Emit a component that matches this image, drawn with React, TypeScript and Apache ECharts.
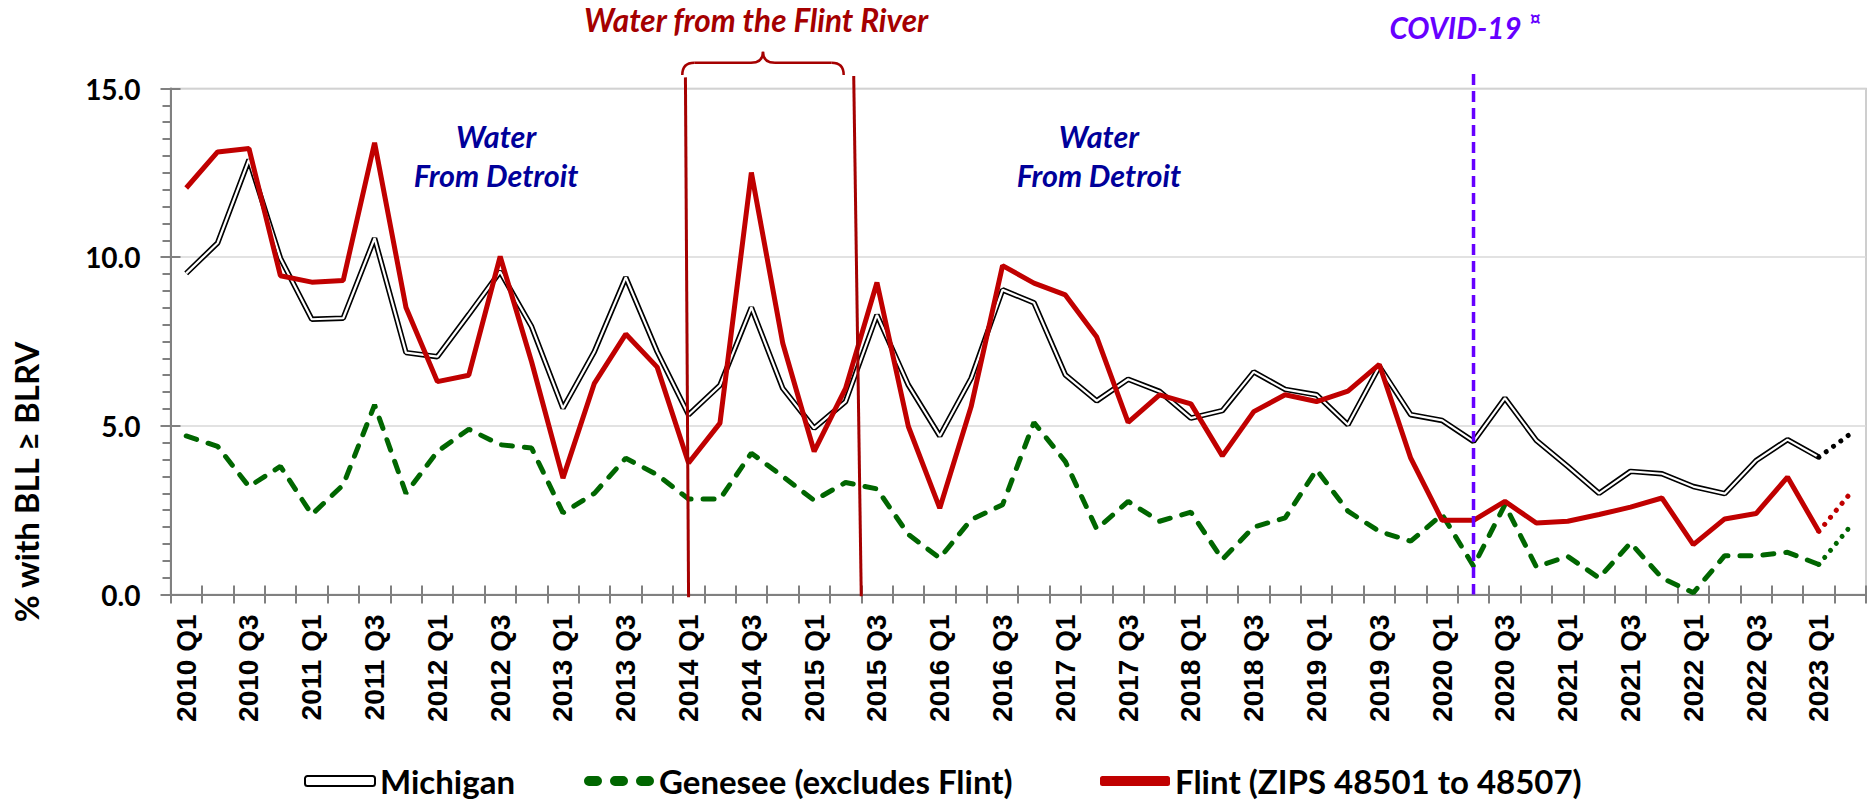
import React, { useEffect, useRef } from "react";
import * as echarts from "echarts";

// ---------- data ----------
const years = [2010, 2011, 2012, 2013, 2014, 2015, 2016, 2017, 2018, 2019, 2020, 2021, 2022, 2023];
const quarterNames = ["Q1", "Q2", "Q3", "Q4"];
const categories: string[] = years
  .flatMap((y) => quarterNames.map((q) => `${y} ${q}`))
  .slice(0, 54); // 2010 Q1 .. 2023 Q2

// observed values 2010 Q1 .. 2023 Q1
const michigan = [
  9.52, 10.42, 12.89, 9.97, 8.16, 8.19, 10.56, 7.17, 7.05, 8.3,
  9.57, 7.94, 5.52, 7.2, 9.4, 7.2, 5.33, 6.2, 8.51, 6.11,
  4.93, 5.72, 8.29, 6.21, 4.7, 6.41, 9.03, 8.65, 6.51, 5.74,
  6.38, 6.02, 5.23, 5.45, 6.6, 6.08, 5.92, 5.03, 6.76, 5.33,
  5.16, 4.54, 5.82, 4.57, 3.8, 3.0, 3.65, 3.58, 3.2, 2.99,
  3.97, 4.59, 4.07,
];
const genesee = [
  4.7, 4.39, 3.2, 3.8, 2.37, 3.25, 5.62, 3.0, 4.24, 4.9,
  4.44, 4.34, 2.42, 3.0, 4.04, 3.55, 2.83, 2.83, 4.19, 3.5,
  2.79, 3.32, 3.13, 1.78, 1.08, 2.22, 2.66, 5.1, 3.94, 1.94,
  2.76, 2.17, 2.44, 1.04, 2.0, 2.27, 3.7, 2.47, 1.87, 1.58,
  2.37, 0.84, 2.66, 0.82, 1.13, 0.49, 1.53, 0.49, 0.05, 1.15,
  1.15, 1.25, 0.89,
];
const flint = [
  12.05, 13.12, 13.22, 9.45, 9.26, 9.31, 13.39, 8.51, 6.31, 6.5,
  10.02, 6.9, 3.45, 6.26, 7.72, 6.74, 3.9, 5.08, 12.51, 7.45,
  4.24, 6.11, 9.25, 4.98, 2.56, 5.57, 9.75, 9.23, 8.88, 7.63,
  5.1, 5.92, 5.65, 4.11, 5.42, 5.92, 5.72, 6.03, 6.82, 4.04,
  2.2, 2.2, 2.76, 2.12, 2.17, 2.37, 2.59, 2.86, 1.48, 2.24,
  2.4, 3.48, 1.87,
];
// preliminary 2023 Q2 values (dotted)
const michiganNext = 4.76;
const geneseeNext = 2.02;
const flintNext = 3.0;

const yTicks = [0, 5, 10, 15];

// annotation anchors (category index, value)
const flintRiverStart = 16; // 2014 Q1
const flintRiverEnd = 21.5; // between 2015 Q2 and 2015 Q3
const covidIndex = 41; // 2020 Q2

const seriesNames = {
  mi: "Michigan",
  ge: "Genesee (excludes Flint)",
  fl: "Flint (ZIPS 48501 to 48507)",
};

const RED = "#C00000";
const GREEN = "#006600";
const DARKRED = "#A50000";
const NAVY = "#00009A";
const PURPLE = "#6600FF";

function projection(observed: number[], next: number): (number | null)[] {
  const arr: (number | null)[] = categories.map(() => null);
  arr[observed.length - 1] = observed[observed.length - 1];
  arr[observed.length] = next;
  return arr;
}

export default function App() {
  const ref = useRef<HTMLDivElement>(null);

  useEffect(() => {
    if (!ref.current) return;
    const chart = echarts.init(ref.current, undefined, { renderer: "svg" });

    const labelFont = "Lato";
    const legendText = (width: number) => ({ width, overflow: "none" });
    const option: any = {
      animation: false,
      backgroundColor: "#fff",
      grid: {
        left: 170.5,
        right: 9,
        top: 88.5,
        bottom: 206.5,
        show: true,
        borderColor: "#bfbfbf",
        borderWidth: 1.5,
        backgroundColor: "transparent",
      },
      legend: {
        left: 304,
        top: 764,
        padding: 0,
        itemWidth: 70,
        itemHeight: 10,
        itemGap: 64,
        textStyle: {
          fontFamily: labelFont,
          fontWeight: "bold",
          fontSize: 33,
          lineHeight: 34,
          color: "#000",
        },
        data: [
          {
            name: seriesNames.mi,
            icon: "roundRect",
            itemStyle: { color: "#fff", borderColor: "#000", borderWidth: 2 },
            textStyle: legendText(140),
          },
          {
            name: seriesNames.ge,
            icon:
              "path://M5,0H13A5,5,0,0,1,13,10H5A5,5,0,0,1,5,0Z M31,0H39A5,5,0,0,1,39,10H31A5,5,0,0,1,31,0Z M57,0H65A5,5,0,0,1,65,10H57A5,5,0,0,1,57,0Z",
            itemStyle: { color: GREEN },
            textStyle: legendText(377),
          },
          {
            name: seriesNames.fl,
            icon: "roundRect",
            itemStyle: { color: RED },
            textStyle: legendText(440),
          },
        ],
      },
      xAxis: [
        {
          type: "category",
          data: categories,
          position: "bottom",
          axisLine: { lineStyle: { color: "#808080", width: 2 } },
          axisTick: { show: true, interval: 0, length: 9, lineStyle: { color: "#808080", width: 2 } },
          axisLabel: {
            interval: 1,
            rotate: 90,
            margin: 20,
            color: "#000",
            fontFamily: "Liberation Sans",
            fontWeight: "bold",
            fontSize: 28,
          },
          splitLine: { show: false },
        },
        {
          type: "category",
          data: categories,
          position: "bottom",
          axisLine: { show: false },
          axisTick: { show: true, inside: true, interval: 0, length: 9, lineStyle: { color: "#808080", width: 2 } },
          axisLabel: { show: false },
          splitLine: { show: false },
        },
      ],
      yAxis: [
        {
          type: "value",
          min: 0,
          max: 15,
          interval: 5,
          position: "left",
          axisLine: { show: true, lineStyle: { color: "#808080", width: 2 } },
          axisTick: { show: true, length: 10, lineStyle: { color: "#808080", width: 2 } },
          minorTick: { show: true, splitNumber: 10, length: 8, lineStyle: { color: "#808080", width: 2 } },
          axisLabel: {
            margin: 30,
            color: "#000",
            fontFamily: labelFont,
            fontWeight: "bold",
            fontSize: 28,
            formatter: (v: number) => (yTicks.includes(v) ? v.toFixed(1) : ""),
          },
          splitLine: { show: true, lineStyle: { color: "#d9d9d9", width: 1.5 } },
        },
        {
          type: "value",
          min: 0,
          max: 15,
          interval: 5,
          position: "left",
          axisLine: { show: false },
          axisTick: { show: true, inside: true, length: 10, lineStyle: { color: "#808080", width: 2 } },
          axisLabel: { show: false },
          splitLine: { show: false },
        },
      ],
      series: [
        {
          name: seriesNames.mi,
          type: "line",
          data: michigan,
          symbol: "none",
          lineStyle: { color: "#000", width: 5.5 },
          itemStyle: { color: "#000" },
          z: 2,
        },
        {
          name: seriesNames.mi,
          type: "line",
          data: michigan,
          symbol: "none",
          lineStyle: { color: "#fff", width: 2.2 },
          itemStyle: { color: "#fff" },
          z: 3,
        },
        {
          name: seriesNames.ge,
          type: "line",
          data: genesee,
          symbol: "none",
          lineStyle: { color: GREEN, width: 5, type: [11, 12], cap: "round" },
          itemStyle: { color: GREEN },
          z: 4,
        },
        {
          name: seriesNames.fl,
          type: "line",
          data: flint,
          symbol: "none",
          lineStyle: { color: RED, width: 5 },
          itemStyle: { color: RED },
          z: 5,
        },
        {
          name: "Michigan 2023 Q2",
          type: "line",
          data: projection(michigan, michiganNext),
          symbol: "none",
          lineStyle: { color: "#000", width: 5, type: [0.1, 9], cap: "round" },
          z: 4,
        },
        {
          name: "Genesee 2023 Q2",
          type: "line",
          data: projection(genesee, geneseeNext),
          symbol: "none",
          lineStyle: { color: GREEN, width: 5, type: [0.1, 9], cap: "round" },
          z: 4,
        },
        {
          name: "Flint 2023 Q2",
          type: "line",
          data: projection(flint, flintNext),
          symbol: "none",
          lineStyle: { color: RED, width: 5, type: [0.1, 9], cap: "round" },
          z: 4,
        },
      ],
    };

    chart.setOption(option);

    const pt = (i: number, v: number): number[] => {
      const i0 = Math.floor(i);
      const f = i - i0;
      const a = chart.convertToPixel({ xAxisIndex: 0, yAxisIndex: 0 }, [i0, v]) as number[];
      const b = chart.convertToPixel({ xAxisIndex: 0, yAxisIndex: 0 }, [i0 + 1, v]) as number[];
      return [a[0] + (b[0] - a[0]) * f, a[1]];
    };

    const annoFont = (size: number) => ({
      fontFamily: "Lato",
      fontWeight: "bold",
      fontStyle: "italic",
      fontSize: size,
    });
    const centered = {
      align: "center",
      verticalAlign: "middle",
      textAlign: "center",
      textVerticalAlign: "middle",
    };

    const [l1x0, l1y0] = pt(flintRiverStart - 0.1, 15.33);
    const [l1x1, l1y1] = pt(flintRiverStart, -0.08);
    const [l2x0, l2y0] = pt(flintRiverEnd - 0.24, 15.37);
    const [l2x1, l2y1] = pt(flintRiverEnd, -0.05);

    const xl = pt(flintRiverStart - 0.2, 0)[0];
    const xr = pt(flintRiverEnd - 0.56, 0)[0];
    const xm = (xl + xr) / 2;
    const yb = pt(0, 15.4)[1];
    const yh = pt(0, 15.76)[1];
    const yt = pt(0, 16.09)[1];
    const r = 12;
    const braceStyle = { stroke: DARKRED, lineWidth: 2.5, fill: null };

    const [cx, cyBottom] = pt(covidIndex, 0);
    const cyTop = pt(covidIndex, 15.43)[1];

    const water1 = pt(9.87, 0)[0];
    const water2 = pt(29.07, 0)[0];
    const riverTitleX = pt(18.15, 0)[0];

    const graphic: any[] = [
      // y axis title
      {
        type: "text",
        x: 26,
        y: 482,
        rotation: Math.PI / 2,
        style: {
          text: "% with BLL ≥ BLRV",
          fill: "#000",
          fontFamily: "Lato",
          fontWeight: "bold",
          fontSize: 33,
          ...centered,
        },
      },
      // Flint river period lines
      { type: "line", shape: { x1: l1x0, y1: l1y0, x2: l1x1, y2: l1y1 }, style: { stroke: DARKRED, lineWidth: 3 }, z: 10 },
      { type: "line", shape: { x1: l2x0, y1: l2y0, x2: l2x1, y2: l2y1 }, style: { stroke: DARKRED, lineWidth: 3 }, z: 10 },
      // brace
      { type: "bezierCurve", shape: { x1: xl, y1: yb, cpx1: xl, cpy1: yh, x2: xl + r, y2: yh }, style: braceStyle, z: 10 },
      { type: "line", shape: { x1: xl + r, y1: yh, x2: xm - r, y2: yh }, style: braceStyle, z: 10 },
      { type: "bezierCurve", shape: { x1: xm - r, y1: yh, cpx1: xm, cpy1: yh, x2: xm, y2: yt }, style: braceStyle, z: 10 },
      { type: "bezierCurve", shape: { x1: xm, y1: yt, cpx1: xm, cpy1: yh, x2: xm + r, y2: yh }, style: braceStyle, z: 10 },
      { type: "line", shape: { x1: xm + r, y1: yh, x2: xr - r, y2: yh }, style: braceStyle, z: 10 },
      { type: "bezierCurve", shape: { x1: xr - r, y1: yh, cpx1: xr, cpy1: yh, x2: xr, y2: yb }, style: braceStyle, z: 10 },
      {
        type: "text",
        x: riverTitleX,
        y: 20,
        style: { text: "Water from the Flint River", fill: DARKRED, ...annoFont(31.5), ...centered },
        z: 10,
      },
      // Water from Detroit labels
      ...[water1, water2].flatMap((wx) => [
        {
          type: "text",
          x: wx,
          y: 136,
          style: { text: "Water", fill: NAVY, ...annoFont(30.5), ...centered },
          z: 10,
        },
        {
          type: "text",
          x: wx,
          y: 175,
          style: { text: "From Detroit", fill: NAVY, ...annoFont(30.5), ...centered },
          z: 10,
        },
      ]),
      // COVID line
      {
        type: "line",
        shape: { x1: cx, y1: cyTop, x2: cx, y2: cyBottom },
        style: { stroke: PURPLE, lineWidth: 3.5, lineDash: [11, 6] },
        z: 10,
      },
      {
        type: "text",
        x: cx + 48,
        y: 27,
        style: {
          text: "COVID-19",
          fill: PURPLE,
          ...annoFont(29.5),
          align: "right",
          verticalAlign: "middle",
          textAlign: "right",
          textVerticalAlign: "middle",
        },
        z: 10,
      },
      {
        type: "text",
        x: cx + 56,
        y: 18,
        style: {
          text: "¤",
          fill: PURPLE,
          fontFamily: "Lato",
          fontWeight: "bold",
          fontSize: 20,
          align: "left",
          verticalAlign: "middle",
          textAlign: "left",
          textVerticalAlign: "middle",
        },
        z: 10,
      },
    ];

    chart.setOption({ graphic });

    return () => {
      chart.dispose();
    };
  }, []);

  return (
    <div
      ref={ref}
      style={{ position: "absolute", left: 0, top: 0, width: 1875, height: 801 }}
    />
  );
}
